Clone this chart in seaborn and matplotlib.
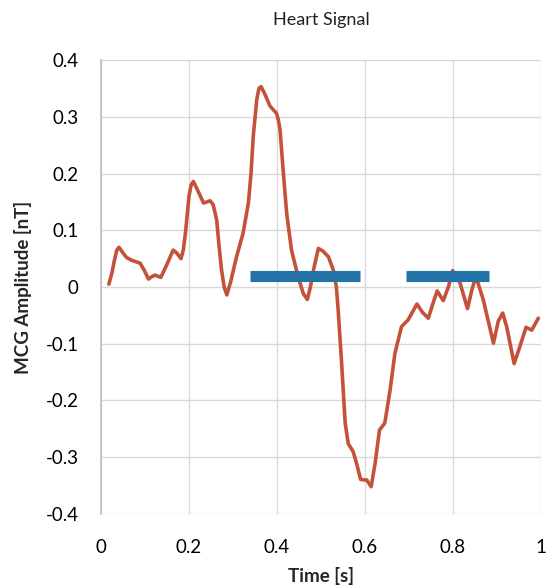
import matplotlib
matplotlib.use("Agg")
import matplotlib.pyplot as plt
import seaborn as sns
import pandas as pd

time_s = [0.018, 0.025, 0.030, 0.036, 0.041, 0.050, 0.058, 0.070, 0.089, 0.098, 0.108, 0.115, 0.123,
          0.136, 0.150, 0.164, 0.172, 0.182, 0.187, 0.192, 0.200, 0.205, 0.210, 0.220, 0.233,
          0.241, 0.248, 0.255, 0.263, 0.268, 0.274, 0.280, 0.286, 0.295, 0.308, 0.323, 0.335,
          0.341, 0.346, 0.354, 0.359, 0.364, 0.373, 0.384, 0.399, 0.403, 0.407, 0.414, 0.422, 0.433,
          0.448, 0.460, 0.469, 0.476, 0.483, 0.494, 0.505, 0.517, 0.528, 0.535, 0.539, 0.547,
          0.555, 0.562, 0.573, 0.581, 0.590, 0.598, 0.604, 0.614, 0.623, 0.633, 0.645,
          0.657, 0.668, 0.683, 0.698, 0.718, 0.731, 0.744, 0.754, 0.764, 0.778, 0.790,
          0.799, 0.816, 0.833, 0.843, 0.852, 0.869, 0.892, 0.903, 0.913, 0.922, 0.939, 0.952,
          0.966, 0.979, 0.994]
amplitude_nT = [0.005, 0.025, 0.045, 0.065, 0.070, 0.060, 0.052, 0.047, 0.042, 0.030, 0.014, 0.018, 0.021,
                0.017, 0.040, 0.065, 0.060, 0.050, 0.065, 0.095, 0.160, 0.180, 0.186, 0.170, 0.148,
                0.150, 0.152, 0.145, 0.118, 0.075, 0.030, 0.000, -0.014, 0.010, 0.053, 0.095, 0.148,
                0.200, 0.265, 0.330, 0.350, 0.353, 0.339, 0.319, 0.306, 0.295, 0.277, 0.206, 0.130, 0.065,
                0.018, -0.012, -0.022, 0.000, 0.030, 0.068, 0.063, 0.053, 0.030, 0.000, -0.040, -0.135,
                -0.240, -0.276, -0.290, -0.311, -0.339, -0.340, -0.340, -0.352, -0.311, -0.252, -0.240,
                -0.182, -0.117, -0.070, -0.058, -0.030, -0.045, -0.055, -0.030, -0.007, -0.024, 0.001,
                0.029, 0.007, -0.038, -0.005, 0.019, -0.023, -0.099, -0.060, -0.046, -0.070, -0.135, -0.105,
                -0.071, -0.076, -0.055]

bar_start = [0.339, 0.693]
bar_end = [0.589, 0.882]
bar_level = [0.019, 0.019]

x_ticks = [0, 0.2, 0.4, 0.6, 0.8, 1]
x_tick_labels = ["0", "0.2", "0.4", "0.6", "0.8", "1"]
y_ticks = [-0.4, -0.3, -0.2, -0.1, 0, 0.1, 0.2, 0.3, 0.4]
y_tick_labels = ["-0.4", "-0.3", "-0.2", "-0.1", "0", "0.1", "0.2", "0.3", "0.4"]

sns.set_theme(style="whitegrid")
plt.rcParams["font.family"] = ["Lato", "DejaVu Sans"]

fig = plt.figure(figsize=(5.5, 5.85), dpi=100)
ax = fig.add_axes([0.1836, 0.1214, 0.80, 0.776])

df = pd.DataFrame({"t": time_s, "a": amplitude_nT})
sns.lineplot(data=df, x="t", y="a", ax=ax, color="#C4523A", linewidth=2.6,
             sort=False, estimator=None, solid_joinstyle="round", solid_capstyle="round")
ax.hlines(bar_level, bar_start, bar_end, colors="#2372A8", linewidth=8.0, zorder=3)

ax.set_xlim(0, 1)
ax.set_ylim(-0.4, 0.4)
ax.set_xticks(x_ticks)
ax.set_xticklabels(x_tick_labels)
ax.set_yticks(y_ticks)
ax.set_yticklabels(y_tick_labels)
ax.grid(True, color="#D9D9D9", linewidth=1.0)
for s in ["top", "right", "bottom"]:
    ax.spines[s].set_visible(False)
ax.spines["left"].set_visible(True)
ax.spines["left"].set_color("#BFBFBF")
ax.spines["left"].set_linewidth(1.2)
ax.tick_params(axis="both", labelsize=13.5, colors="#000000", length=0)
ax.tick_params(axis="y", pad=16)
ax.tick_params(axis="x", pad=18)
ax.set_xlabel("Time [s]", fontsize=13.5, fontweight="bold", labelpad=8)
ax.set_ylabel("MCG Amplitude [nT]", fontsize=13.5, fontweight="bold", labelpad=10)
ax.set_title("Heart Signal", fontsize=13, color="#222222", pad=25)

fig.savefig("out.png", dpi=100)
